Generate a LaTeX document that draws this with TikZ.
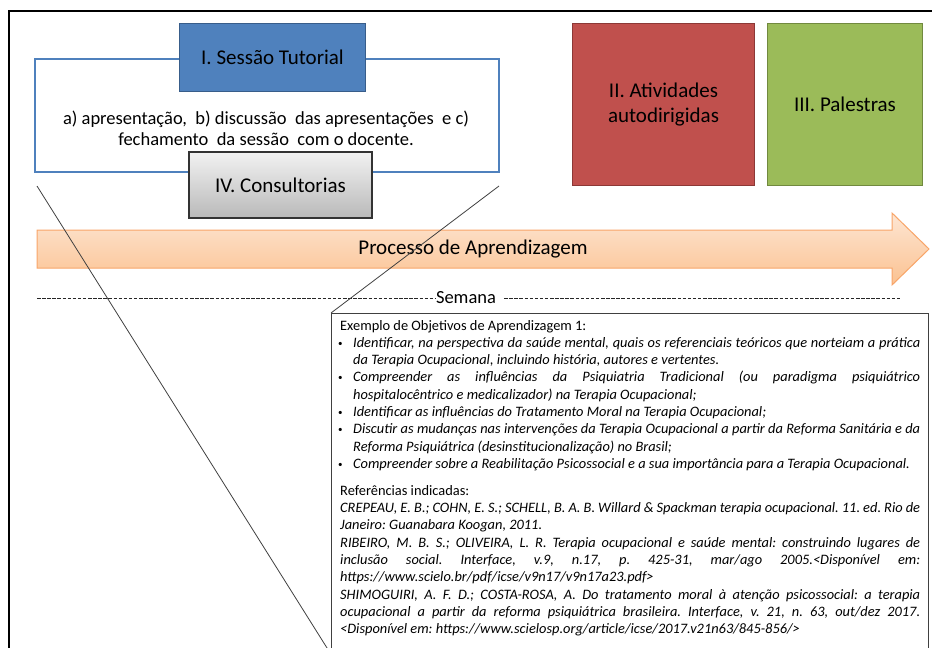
\documentclass[tikz,border=0pt]{standalone}
\usepackage{fontspec}
\setmainfont{Carlito}
\definecolor{blueF}{HTML}{4F81BD}
\definecolor{blueD}{HTML}{385D8A}
\definecolor{redF}{HTML}{C0504D}
\definecolor{redD}{HTML}{8C3836}
\definecolor{greenF}{HTML}{9BBB59}
\definecolor{greenD}{HTML}{71893F}
\definecolor{arrTop}{HTML}{FDE6D3}
\definecolor{arrBot}{HTML}{FBC291}
\definecolor{arrD}{HTML}{F8A569}
\definecolor{grayTop}{HTML}{F2F2F2}
\definecolor{grayBot}{HTML}{B9B9B9}
\definecolor{lineG}{HTML}{404040}
\newcommand\SmBul{\makebox[13pt][l]{\kern-2pt\raisebox{1.2pt}{\fontsize{9}{9}\selectfont\textbullet}}}
\newcommand\BulJ[1]{\hbox to 580pt{\SmBul\makebox[567pt][s]{\itshape #1}}}
\newcommand\BulL[1]{\hbox to 580pt{\SmBul{\itshape #1}\hfil}}
\newcommand\ConJ[1]{\hbox to 580pt{\hspace*{13pt}\makebox[567pt][s]{\itshape #1}}}
\newcommand\ConL[1]{\hbox to 580pt{\hspace*{13pt}{\itshape #1}\hfil}}
\newcommand\RefJ[1]{\hbox to 580pt{\makebox[580pt][s]{\itshape #1}}}
\newcommand\RefL[1]{\hbox to 580pt{{\itshape #1}\hfil}}
\newcommand\PlainL[1]{\hbox to 580pt{#1\hfil}}
\frenchspacing
\begin{document}
\begin{tikzpicture}[x=1pt,y=-1pt,
  box/.style={draw, line width=1.8pt, inner sep=0pt, align=center,
    font=\fontsize{21}{25.6}\selectfont},
  thinline/.style={draw=lineG, line width=0.8pt},
  dashline/.style={draw=black!85, line width=0.8pt, dash pattern=on 3.5pt off 1.6pt}]
\useasboundingbox (0,0) rectangle (932,648);
\clip (0,0) rectangle (932,648);
% outer frame
\draw[line width=2pt, black] (9,660) -- (9,11) -- (945,11);
% tutorial session frame
\node[draw=blueF, line width=2.4pt, minimum width=464pt, minimum height=113pt, inner sep=0pt]
  (frame) at (267,115.5) {};
\node[align=center, font=\fontsize{18.5}{21}\selectfont] (desc) at (266,128)
  {a) apresentação,\ \ b) discussão\ \ das apresentações\ \ e c)\\fechamento\ \ da sessão\ \ com o docente.};
\node[box, draw=blueD, fill=blueF, minimum width=186pt, minimum height=68pt] (tut) at (272.5,57.5) {I. Sessão Tutorial};
\node[box, draw=black!80, line width=1.2pt, top color=grayTop, bottom color=grayBot,
  minimum width=183pt, minimum height=66pt] (cons) at (280.5,185) {IV. Consultorias};
% right boxes
\node[box, draw=redD, fill=redF, minimum width=182pt, minimum height=162pt] (ativ) at (663.5,104.5) {II. Atividades\\autodirigidas};
\node[box, draw=greenD, fill=greenF, minimum width=155pt, minimum height=162pt] (pal) at (845,104.5) {III. Palestras};
% arrow
\shade[top color=arrTop, bottom color=arrBot, draw=arrD, line width=1pt]
  (37,230) -- (892,230) -- (892,213) -- (929,249) -- (892,285) -- (892,268) -- (37,268) -- cycle;
\node[font=\fontsize{21}{25}\selectfont] (proc) at (473,249) {Processo de Aprendizagem};
% week line
\node[font=\fontsize{18.5}{21}\selectfont, inner sep=0pt] (sem) at (466,298) {Semana};
\coordinate (dl) at (37,298);
\coordinate (dr) at (900,298);
\draw[dashline] (dl) -- (sem.west);
\draw[dashline] ([xshift=8pt]sem.east) -- (dr);
% objectives box
\node[draw=black!75, line width=1.3pt, minimum width=597pt, minimum height=340pt, inner sep=0pt, anchor=north west]
  (obj) at (331,313) {};
\node[anchor=base west, inner sep=0pt] (objtxt) at (340,330) {\parbox[t]{580pt}{\fontsize{14.4}{17.3}\selectfont
\PlainL{Exemplo de Objetivos de Aprendizagem 1:}
\BulJ{Identificar, na perspectiva da saúde mental, quais os referenciais teóricos que norteiam a prática}
\ConL{da Terapia Ocupacional, incluindo história, autores e vertentes.}
\BulJ{Compreender as influências da Psiquiatria Tradicional (ou paradigma psiquiátrico}
\ConL{hospitalocêntrico e medicalizador) na Terapia Ocupacional;}
\BulL{Identificar as influências do Tratamento Moral na Terapia Ocupacional;}
\BulJ{Discutir as mudanças nas intervenções da Terapia Ocupacional a partir da Reforma Sanitária e da}
\ConL{Reforma Psiquiátrica (desinstitucionalização) no Brasil;}
\BulL{Compreender sobre a Reabilitação Psicossocial e a sua importância para a Terapia Ocupacional.}
\vspace{9.5pt}
\PlainL{Referências indicadas:}
\RefJ{CREPEAU, E. B.; COHN, E. S.; SCHELL, B. A. B. Willard \& Spackman terapia ocupacional. 11. ed. Rio de}
\RefL{Janeiro: Guanabara Koogan, 2011.}
\RefJ{RIBEIRO, M. B. S.; OLIVEIRA, L. R. Terapia ocupacional e saúde mental: construindo lugares de}
\RefJ{inclusão social. Interface, v.9, n.17, p. 425-31, mar/ago 2005.<Disponível em:}
\RefL{https://www.scielo.br/pdf/icse/v9n17/v9n17a23.pdf>}
\RefJ{SHIMOGUIRI, A. F. D.; COSTA-ROSA, A. Do tratamento moral à atenção psicossocial: a terapia}
\RefJ{ocupacional a partir da reforma psiquiátrica brasileira. Interface, v. 21, n. 63, out/dez 2017.}
\RefL{<Disponível em: https://www.scielosp.org/article/icse/2017.v21n63/845-856/>}
}};
% zoom lines
\coordinate (zl) at (37,186);
\coordinate (zr) at (499,186);
\draw[thinline] (zl) -- (obj.south west);
\draw[thinline] (zr) -- (obj.north west);
\end{tikzpicture}
\end{document}
